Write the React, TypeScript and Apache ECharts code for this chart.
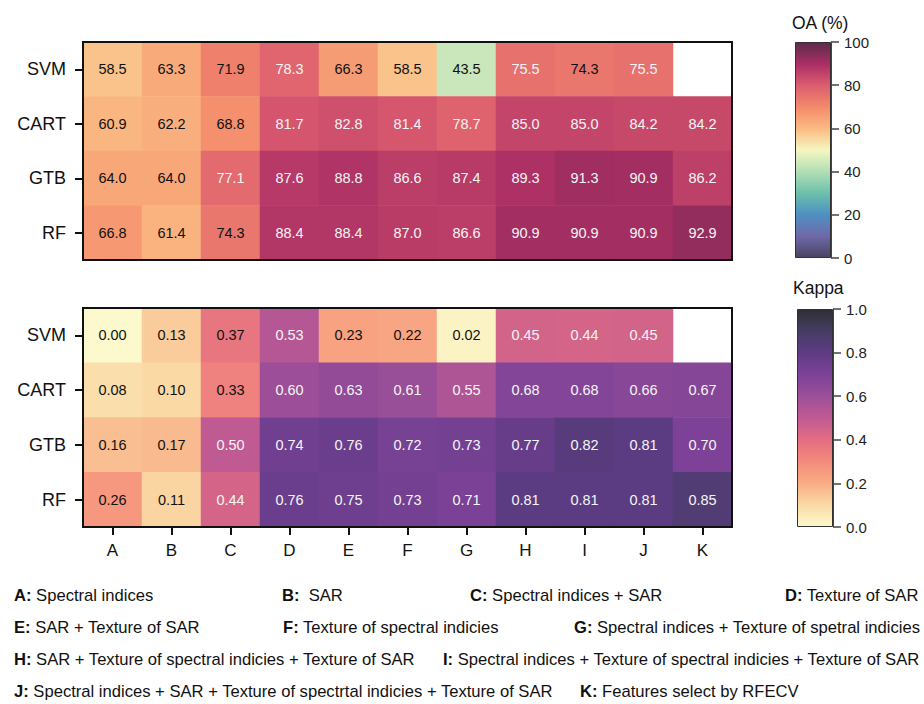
import React, { useEffect, useRef } from "react";
import * as echarts from "echarts";

const features = ["A", "B", "C", "D", "E", "F", "G", "H", "I", "J", "K"];
const models = ["SVM", "CART", "GTB", "RF"];

const oaSVM = [58.5, 63.3, 71.9, 78.3, 66.3, 58.5, 43.5, 75.5, 74.3, 75.5, null];
const oaCART = [60.9, 62.2, 68.8, 81.7, 82.8, 81.4, 78.7, 85.0, 85.0, 84.2, 84.2];
const oaGTB = [64.0, 64.0, 77.1, 87.6, 88.8, 86.6, 87.4, 89.3, 91.3, 90.9, 86.2];
const oaRF = [66.8, 61.4, 74.3, 88.4, 88.4, 87.0, 86.6, 90.9, 90.9, 90.9, 92.9];

const kSVM = [0.0, 0.13, 0.37, 0.53, 0.23, 0.22, 0.02, 0.45, 0.44, 0.45, null];
const kCART = [0.08, 0.1, 0.33, 0.6, 0.63, 0.61, 0.55, 0.68, 0.68, 0.66, 0.67];
const kGTB = [0.16, 0.17, 0.5, 0.74, 0.76, 0.72, 0.73, 0.77, 0.82, 0.81, 0.7];
const kRF = [0.26, 0.11, 0.44, 0.76, 0.75, 0.73, 0.71, 0.81, 0.81, 0.81, 0.85];

const oaRows = [oaSVM, oaCART, oaGTB, oaRF];
const kRows = [kSVM, kCART, kGTB, kRF];

const oaColors = [
  "#4a4462", "#6f69a8", "#4e90c2", "#6ec0ab", "#b2dfb6", "#f5f6c0",
  "#fbba82", "#f38a6b", "#dc5d6f", "#aa2e64", "#5c2c4c",
];
const kColors = [
  "#fcf9cc", "#fad9a5", "#f9ac85", "#f48a7c", "#e36d82", "#c05a92",
  "#9c4f98", "#7d4298", "#5d3b84", "#453d63", "#2f2f36",
];

const oaRange = [0, 100];
const kRange = [0, 1];
const oaInterval = 20;
const kInterval = 0.2;
const oaWhiteAbove = 75;
const kWhiteAbove = 0.4;

const legendRows = [
  [["A:", "Spectral indices"], ["B:", " SAR"], ["C:", "Spectral indices + SAR"], ["D:", "Texture of SAR"]],
  [["E:", "SAR + Texture of SAR"], ["F:", "Texture of spectral indicies"], ["G:", "Spectral indices + Texture of spetral indicies"]],
  [["H:", "SAR + Texture of spectral indicies + Texture of SAR"], ["I:", "Spectral indices + Texture of spectral indicies + Texture of SAR"]],
  [["J:", "Spectral indices + SAR + Texture of spectrtal indicies + Texture of SAR"], ["K:", "Features select by RFECV"]],
];
const legendX = [
  [14, 282, 470, 785],
  [14, 283, 574],
  [14, 443],
  [14, 580],
];
const legendY = [595, 627, 659, 691];

const FONT = "'Liberation Sans', Arial, Helvetica, sans-serif";

function buildData(rows: (number | null)[][], threshold: number, digits: number) {
  const out: any[] = [];
  rows.forEach((row, yi) => {
    row.forEach((v, xi) => {
      if (v === null) return;
      out.push({
        value: [xi, yi, v],
        label: {
          color: v > threshold ? "#f4f4f4" : "#111111",
          formatter: () => v.toFixed(digits),
        },
      });
    });
  });
  return out;
}

function stops(colors: string[]) {
  return colors.map((c, i) => ({ offset: i / (colors.length - 1), color: c }));
}

export default function App() {
  const ref = useRef<HTMLDivElement>(null);
  useEffect(() => {
    const chart = echarts.init(ref.current!, null, { renderer: "svg" });
    const catY = (gridIndex: number) => ({
      type: "category",
      gridIndex,
      data: models,
      inverse: true,
      axisLine: { show: false },
      axisTick: { show: true, alignWithLabel: true, length: 8, lineStyle: { color: "#111", width: 2 } },
      axisLabel: { fontSize: 18, color: "#111", margin: 17, fontFamily: FONT },
      splitLine: { show: false },
    });
    const barAxisY = (gridIndex: number, range: number[], interval: number, digits: number) => ({
      type: "value",
      gridIndex,
      min: range[0],
      max: range[1],
      interval,
      position: "right",
      axisLine: { show: true, lineStyle: { color: "#444", width: 1 } },
      axisTick: { show: true, length: 8, lineStyle: { color: "#444", width: 1.5 } },
      axisLabel: {
        fontSize: 15,
        color: "#222",
        margin: 13,
        fontFamily: FONT,
        formatter: (v: number) => v.toFixed(digits),
      },
      splitLine: { show: false },
    });
    const hiddenX = (gridIndex: number) => ({
      type: "category",
      gridIndex,
      data: ["c"],
      show: false,
    });
    const graphicTexts: any[] = [];
    legendRows.forEach((row, ri) => {
      row.forEach((item, ci) => {
        graphicTexts.push({
          type: "text",
          x: legendX[ri][ci],
          y: legendY[ri],
          style: {
            text: "{b|" + item[0] + "} " + item[1],
            fontSize: 16.6,
            fontFamily: FONT,
            fill: "#111",
            verticalAlign: "middle",
            rich: {
              b: { fontWeight: "bold", fontSize: 16.6, fontFamily: FONT, fill: "#111" },
            },
          },
        });
      });
    });

    const option: any = {
      animation: false,
      backgroundColor: "#ffffff",
      textStyle: { fontFamily: FONT },
      title: [
        { text: "OA (%)", left: 792, top: 14, padding: 0, textStyle: { fontSize: 17.5, fontWeight: "normal", color: "#111", fontFamily: FONT } },
        { text: "Kappa", left: 793, top: 279, padding: 0, textStyle: { fontSize: 17.5, fontWeight: "normal", color: "#111", fontFamily: FONT } },
      ],
      grid: [
        { left: 83, top: 42, width: 649, height: 218, show: true, z: 10, backgroundColor: "transparent", borderColor: "#111", borderWidth: 2 },
        { left: 83, top: 308, width: 649, height: 219, show: true, z: 10, backgroundColor: "transparent", borderColor: "#111", borderWidth: 2 },
        { left: 795, top: 42, width: 36, height: 216 },
        { left: 797, top: 309, width: 36, height: 218 },
      ],
      xAxis: [
        {
          type: "category",
          gridIndex: 0,
          data: features,
          axisLine: { show: false },
          axisTick: { show: false },
          axisLabel: { show: false },
          splitLine: { show: false },
        },
        {
          type: "category",
          gridIndex: 1,
          data: features,
          axisLine: { show: false },
          axisTick: { show: true, alignWithLabel: true, length: 8, lineStyle: { color: "#111", width: 2 } },
          axisLabel: { fontSize: 17, color: "#111", margin: 15, fontFamily: FONT },
          splitLine: { show: false },
        },
        hiddenX(2),
        hiddenX(3),
      ],
      yAxis: [
        catY(0),
        catY(1),
        barAxisY(2, oaRange, oaInterval, 0),
        barAxisY(3, kRange, kInterval, 1),
      ],
      visualMap: [
        { type: "continuous", seriesIndex: 0, dimension: 2, min: oaRange[0], max: oaRange[1], show: false, inRange: { color: oaColors } },
        { type: "continuous", seriesIndex: 1, dimension: 2, min: kRange[0], max: kRange[1], show: false, inRange: { color: kColors } },
      ],
      series: [
        {
          type: "heatmap",
          xAxisIndex: 0,
          yAxisIndex: 0,
          data: buildData(oaRows, oaWhiteAbove, 1),
          label: { show: true, fontSize: 14.5, fontFamily: FONT },
          itemStyle: { borderWidth: 0 },
          emphasis: { disabled: true },
        },
        {
          type: "heatmap",
          xAxisIndex: 1,
          yAxisIndex: 1,
          data: buildData(kRows, kWhiteAbove, 2),
          label: { show: true, fontSize: 14.5, fontFamily: FONT },
          itemStyle: { borderWidth: 0 },
          emphasis: { disabled: true },
        },
        {
          type: "bar",
          xAxisIndex: 2,
          yAxisIndex: 2,
          barWidth: "100%",
          data: [oaRange[1]],
          itemStyle: {
            color: new echarts.graphic.LinearGradient(0, 1, 0, 0, stops(oaColors)),
            borderColor: "#333",
            borderWidth: 1,
          },
          silent: true,
        },
        {
          type: "bar",
          xAxisIndex: 3,
          yAxisIndex: 3,
          barWidth: "100%",
          data: [kRange[1]],
          itemStyle: {
            color: new echarts.graphic.LinearGradient(0, 1, 0, 0, stops(kColors)),
            borderColor: "#333",
            borderWidth: 1,
          },
          silent: true,
        },
      ],
      graphic: graphicTexts,
    };
    chart.setOption(option);
    return () => chart.dispose();
  }, []);
  return (
    <div
      ref={ref}
      style={{ position: "fixed", left: 0, top: 0, width: 924, height: 704, background: "#fff" }}
    />
  );
}
